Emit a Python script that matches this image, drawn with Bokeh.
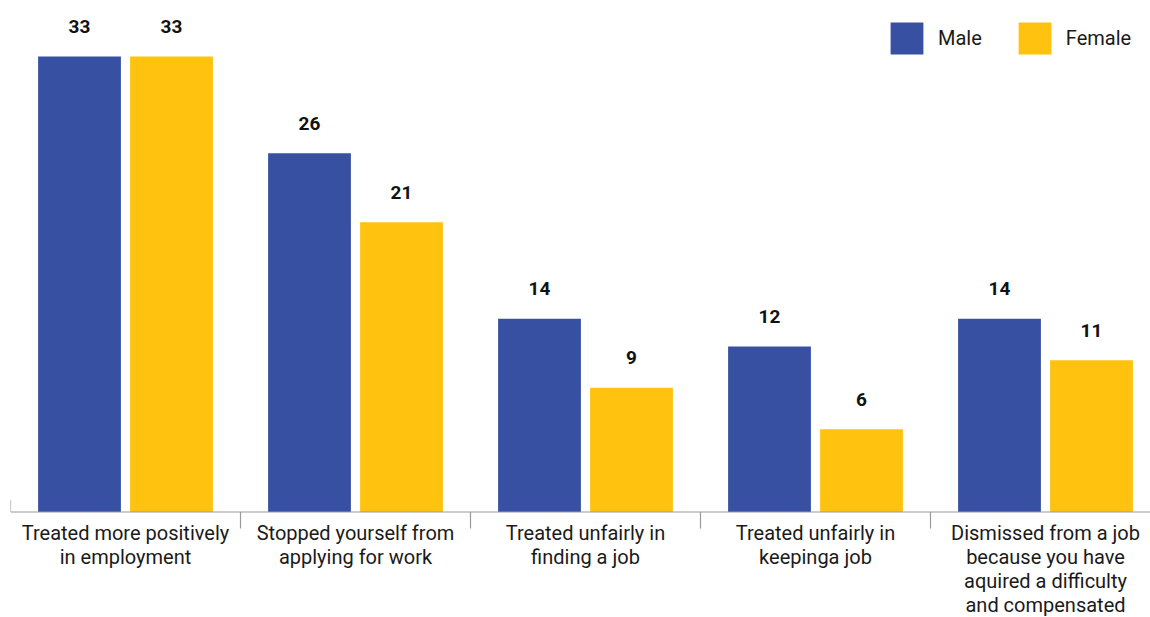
from bokeh.plotting import figure
from bokeh.models import ColumnDataSource, Range1d, Legend, LegendItem
from bokeh.core.properties import value
from bokeh.transform import dodge
from bokeh.embed import file_html
from bokeh.resources import INLINE

categories = [
    "Treated more positively\nin employment",
    "Stopped yourself from\napplying for work",
    "Treated unfairly in\nfinding a job",
    "Treated unfairly in\nkeepinga job",
    "Dismissed from a job\nbecause you have\naquired a difficulty\nand compensated",
]
male = [33, 26, 14, 12, 14]
female = [33, 21, 9, 6, 11]

MALE_C = "#3750A2"
FEMALE_C = "#FEC20F"
FONT = "Roboto"

pos = [i + 0.5 for i in range(len(categories))]
src = ColumnDataSource(dict(
    x=pos, cat=categories, male=male, female=female,
    male_s=[str(v) for v in male], female_s=[str(v) for v in female],
))

PX = 13.8  # pixels per unit
p = figure(width=1150, height=617, output_backend="svg", toolbar_location=None,
           x_range=Range1d(0, 1140 / 230), y_range=Range1d(-105.5 / PX, 511.5 / PX),
           min_border_left=10, min_border_right=0, min_border_top=0, min_border_bottom=0,
           outline_line_color=None)
p.xaxis.visible = False
p.yaxis.visible = False
p.xgrid.visible = False
p.ygrid.visible = False

rm = p.vbar(x=dodge("x", -0.2), top="male", width=0.36, source=src,
            fill_color=MALE_C, line_color=None)
rf = p.vbar(x=dodge("x", 0.2), top="female", width=0.36, source=src,
            fill_color=FEMALE_C, line_color=None)

# value labels
p.text(x=dodge("x", -0.2), y="male", text="male_s", source=src, text_align="center",
       text_baseline="alphabetic", y_offset=-30, text_font=value(FONT),
       text_font_style="bold", text_font_size="19px", text_color="#111111")
p.text(x=dodge("x", 0.2), y="female", text="female_s", source=src, text_align="center",
       text_baseline="alphabetic", y_offset=-30, text_font=value(FONT),
       text_font_style="bold", text_font_size="19px", text_color="#111111")

# axis line and separators
n = len(categories)
p.segment(x0=[0], y0=[0], x1=[1140 / 230], y1=[0], line_color="#9a9a9a", line_width=1.2)
p.segment(x0=list(range(1, n)), y0=[0] * (n - 1), x1=list(range(1, n)), y1=[-1.2] * (n - 1),
          line_color="#9a9a9a", line_width=1.2)
p.segment(x0=[0], y0=[0], x1=[0], y1=[0.87], line_color="#9a9a9a", line_width=1.2)

# category labels
p.text(x="x", y=-0.62, text="cat", source=src, text_align="center", text_baseline="top",
       text_font=value(FONT), text_font_size="20px", text_color="#1a1a1a",
       text_line_height=1.0)

legend = Legend(items=[LegendItem(label="Male", renderers=[rm]),
                       LegendItem(label="Female", renderers=[rf])],
                orientation="horizontal", location=(876, 559), padding=0, margin=0,
                glyph_width=41, glyph_height=40, label_standoff=11, spacing=32,
                label_text_font=FONT, label_text_font_size="20px",
                label_text_color="#1a1a1a", border_line_color=None,
                background_fill_alpha=0)
p.add_layout(legend)

open("out.html", "w").write(file_html(p, INLINE))
